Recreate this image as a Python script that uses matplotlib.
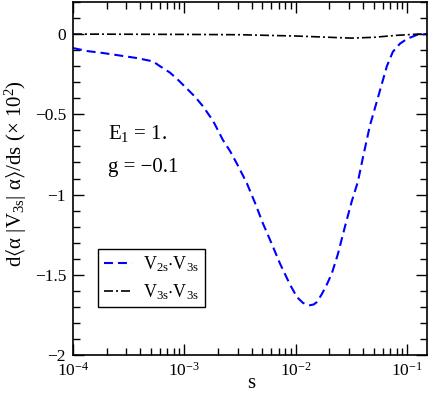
import matplotlib
matplotlib.use("Agg")
import matplotlib.pyplot as plt
import numpy as np
from matplotlib.ticker import MultipleLocator, LogLocator, NullFormatter

plt.rcParams["font.family"] = ["Liberation Serif", "DejaVu Serif"]
plt.rcParams["mathtext.fontset"] = "custom"
plt.rcParams["mathtext.rm"] = "Liberation Serif"
plt.rcParams["mathtext.it"] = "Liberation Serif:italic"
plt.rcParams["mathtext.fallback"] = "stix"

# log10(s) and values (x 10^2)
log_s_v2 = [-4.0, -3.87, -3.73, -3.43, -3.283, -3.22, -3.13, -3.058, -2.978, -2.906,
            -2.834, -2.744, -2.655, -2.59, -2.52, -2.44, -2.368, -2.296, -2.215,
            -2.143, -2.054, -1.99, -1.937, -1.90, -1.874, -1.84, -1.812, -1.767,
            -1.722, -1.677, -1.623, -1.56, -1.498, -1.444, -1.399, -1.336, -1.274,
            -1.184, -1.13, -1.067, -1.004, -0.915, -0.82]
val_v2 = [-0.087, -0.106, -0.118, -0.149, -0.17, -0.20, -0.24, -0.285, -0.34, -0.39,
          -0.45, -0.54, -0.66, -0.73, -0.82, -0.93, -1.05, -1.18, -1.31,
          -1.43, -1.56, -1.64, -1.675, -1.687, -1.69, -1.685, -1.67, -1.62,
          -1.56, -1.49, -1.37, -1.20, -1.04, -0.92, -0.77, -0.57, -0.42,
          -0.20, -0.11, -0.06, -0.03, -0.005, 0.0]

log_s_v3 = [-4.0, -3.0, -2.5, -2.0, -1.7, -1.5, -1.3, -1.1, -0.9, -0.82]
val_v3 = [0.0, -0.002, -0.004, -0.012, -0.02, -0.025, -0.02, -0.008, 0.0, 0.0]

s_v2 = 10 ** np.array(log_s_v2)
s_v3 = 10 ** np.array(log_s_v3)

fig = plt.figure(figsize=(4.29, 3.96), dpi=100)
ax = fig.add_axes([73 / 429, 1 - 355 / 396, 354 / 429, 353 / 396])

ax.plot(s_v2, val_v2, color="#0000ff", lw=1.5, dashes=(4.3, 2.4),
        label=r"V$_{\mathrm{2s}}$$\cdot$V$_{\mathrm{3s}}$")
ax.plot(s_v3, val_v3, color="black", lw=1.2, dashes=(5.4, 1.8, 1.2, 1.8),
        label=r"V$_{\mathrm{3s}}$$\cdot$V$_{\mathrm{3s}}$")

ax.set_xscale("log")
ax.set_xlim(1e-4, 0.15)
ax.set_ylim(-2, 0.2)

ax.set_yticks([-2, -1.5, -1, -0.5, 0])
ax.set_yticklabels(["\u22122", "\u22121.5", "\u22121", "\u22120.5", "0"])
ax.yaxis.set_minor_locator(MultipleLocator(0.1))
ax.xaxis.set_major_locator(LogLocator(base=10, numticks=10))
ax.xaxis.set_minor_locator(LogLocator(base=10, subs=np.arange(2, 10), numticks=20))
ax.xaxis.set_minor_formatter(NullFormatter())

ax.tick_params(which="both", direction="in", top=True, right=True, labelsize=12.5, width=1)
ax.tick_params(which="major", length=8, pad=5)
ax.tick_params(which="minor", length=5)
for sp in ax.spines.values():
    sp.set_linewidth(1.2)

ax.set_xlabel("s", fontsize=15)
ax.xaxis.set_label_coords(0.503, -0.055)
ax.set_ylabel("d$\\langle$\u03b1 |V$_{\\mathrm{3s}}$| \u03b1$\\rangle$/ds (\u00d7 10$^{\\mathrm{2}}$)",
              fontsize=15)
ax.yaxis.set_label_coords(-0.125, 0.513)

ax.text(0.099, 0.612, r"E$_{\mathrm{1}}$ = 1.", transform=ax.transAxes, fontsize=15)
ax.text(0.099, 0.518, "g = \u22120.1", transform=ax.transAxes, fontsize=15)

leg = ax.legend(loc="lower left", bbox_to_anchor=(0.071, 0.136), fontsize=13,
                fancybox=False, framealpha=1, edgecolor="black",
                handlelength=1.6, borderpad=0.3, labelspacing=0.45, handletextpad=0.6,
                borderaxespad=0)
leg.get_frame().set_linewidth(1)

fig.savefig("out.png", dpi=100)
